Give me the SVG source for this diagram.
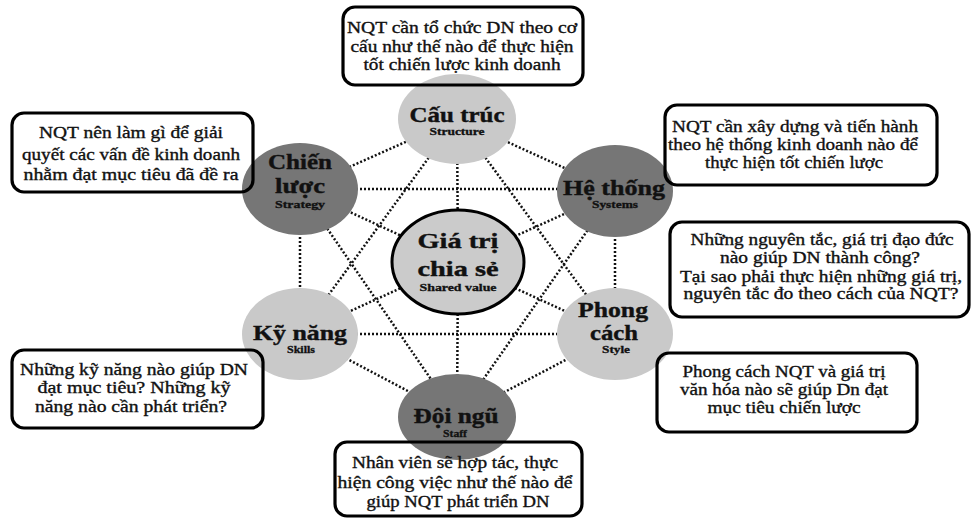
<svg xmlns="http://www.w3.org/2000/svg" width="971" height="520" viewBox="0 0 971 520">
<style>
.light{fill:#c9c9c9}
.dark{fill:#767676}
.core{fill:#cbcbcb;stroke:#000;stroke-width:3}
.box{fill:none;stroke:#000;stroke-width:3.2}
.bt{font-family:"Liberation Serif",serif;font-size:16px;fill:#111;stroke:#111;stroke-width:0.35;text-anchor:middle}
.tt{font-family:"Liberation Serif",serif;font-size:22px;font-weight:bold;fill:#111;stroke:#111;stroke-width:0.4;text-anchor:middle}
.st{font-family:"Liberation Serif",serif;font-size:10px;font-weight:bold;fill:#111;stroke:#111;stroke-width:0.3;text-anchor:middle}
#connectors line{stroke:#111;stroke-width:2.5;stroke-dasharray:2 2}
</style>
<rect width="971" height="520" fill="#fff"/>
<g id="connectors">
<line x1="457" y1="119" x2="300" y2="189"/>
<line x1="457" y1="119" x2="615" y2="191"/>
<line x1="457" y1="119" x2="300" y2="334"/>
<line x1="457" y1="119" x2="615" y2="334"/>
<line x1="457" y1="119" x2="458" y2="262"/>
<line x1="300" y1="189" x2="615" y2="189"/>
<line x1="300" y1="189" x2="458" y2="262"/>
<line x1="300" y1="189" x2="457" y2="417"/>
<line x1="300" y1="189" x2="300" y2="334"/>
<line x1="615" y1="191" x2="458" y2="262"/>
<line x1="615" y1="191" x2="457" y2="417"/>
<line x1="615" y1="191" x2="615" y2="334"/>
<line x1="300" y1="334" x2="458" y2="262"/>
<line x1="300" y1="334" x2="615" y2="334"/>
<line x1="300" y1="334" x2="457" y2="417"/>
<line x1="615" y1="334" x2="458" y2="262"/>
<line x1="615" y1="334" x2="457" y2="417"/>
<line x1="458" y1="262" x2="457" y2="417"/>
</g>
<g id="node-cautruc">
<ellipse class="light" cx="457" cy="119" rx="59" ry="45"/>
<text class="tt" x="457" y="122" textLength="95" lengthAdjust="spacingAndGlyphs">Cấu trúc</text>
<text class="st" x="457" y="135" textLength="55" lengthAdjust="spacingAndGlyphs">Structure</text>
</g>
<g id="node-chienluoc">
<ellipse class="dark" cx="300" cy="189" rx="58" ry="46"/>
<text class="tt" x="300" y="169" textLength="64" lengthAdjust="spacingAndGlyphs">Chiến</text>
<text class="tt" x="300" y="193" textLength="50" lengthAdjust="spacingAndGlyphs">lược</text>
<text class="st" x="300" y="208" textLength="50" lengthAdjust="spacingAndGlyphs">Strategy</text>
</g>
<g id="node-hethong">
<ellipse class="dark" cx="615" cy="191" rx="58" ry="46"/>
<text class="tt" x="614" y="195" textLength="102" lengthAdjust="spacingAndGlyphs">Hệ thống</text>
<text class="st" x="615" y="208" textLength="46" lengthAdjust="spacingAndGlyphs">Systems</text>
</g>
<g id="node-giatri">
<ellipse class="core" cx="458" cy="262" rx="66" ry="52"/>
<text class="tt" x="458" y="248" textLength="81" lengthAdjust="spacingAndGlyphs">Giá trị</text>
<text class="tt" x="458" y="276" textLength="81" lengthAdjust="spacingAndGlyphs">chia sẻ</text>
<text class="st" x="458" y="291" textLength="77" lengthAdjust="spacingAndGlyphs">Shared value</text>
</g>
<g id="node-kynang">
<ellipse class="light" cx="300" cy="334" rx="58" ry="46"/>
<text class="tt" x="300" y="340" textLength="94" lengthAdjust="spacingAndGlyphs">Kỹ năng</text>
<text class="st" x="301" y="353" textLength="28" lengthAdjust="spacingAndGlyphs">Skills</text>
</g>
<g id="node-phongcach">
<ellipse class="light" cx="615" cy="334" rx="58" ry="46"/>
<text class="tt" x="613" y="317" textLength="70" lengthAdjust="spacingAndGlyphs">Phong</text>
<text class="tt" x="614" y="340" textLength="48" lengthAdjust="spacingAndGlyphs">cách</text>
<text class="st" x="616" y="353" textLength="28" lengthAdjust="spacingAndGlyphs">Style</text>
</g>
<g id="node-doingu">
<ellipse class="dark" cx="457" cy="417" rx="59" ry="43"/>
<text class="tt" x="456" y="423" textLength="85" lengthAdjust="spacingAndGlyphs">Đội ngũ</text>
<text class="st" x="455" y="437" textLength="24" lengthAdjust="spacingAndGlyphs">Staff</text>
</g>
<g id="box-cautruc">
<rect class="box" x="343" y="7" width="240" height="78" rx="12"/>
<text class="bt" x="462" y="33" textLength="230" lengthAdjust="spacingAndGlyphs">NQT cần tổ chức DN theo cơ</text>
<text class="bt" x="462" y="52" textLength="223" lengthAdjust="spacingAndGlyphs">cấu như thế nào để thực hiện</text>
<text class="bt" x="462" y="70" textLength="197" lengthAdjust="spacingAndGlyphs">tốt chiến lược kinh  doanh</text>
</g>
<g id="box-chienluoc">
<rect class="box" x="12" y="113" width="241" height="79" rx="12"/>
<text class="bt" x="131" y="138" textLength="184" lengthAdjust="spacingAndGlyphs">NQT nên làm gì để giải</text>
<text class="bt" x="131" y="160" textLength="218" lengthAdjust="spacingAndGlyphs">quyết các vấn đề kinh doanh</text>
<text class="bt" x="131" y="180" textLength="215" lengthAdjust="spacingAndGlyphs">nhằm đạt mục tiêu đã đề ra</text>
</g>
<g id="box-hethong">
<rect class="box" x="665" y="105" width="272" height="80" rx="12"/>
<text class="bt" x="795" y="132" textLength="246" lengthAdjust="spacingAndGlyphs">NQT cần xây dựng và tiến hành</text>
<text class="bt" x="793" y="150" textLength="250" lengthAdjust="spacingAndGlyphs">theo hệ thống kinh  doanh nào để</text>
<text class="bt" x="794" y="168" textLength="178" lengthAdjust="spacingAndGlyphs">thực hiện tốt chiến lược</text>
</g>
<g id="box-giatri">
<rect class="box" x="670" y="222" width="299" height="95" rx="12"/>
<text class="bt" x="822" y="245" textLength="263" lengthAdjust="spacingAndGlyphs">Những nguyên tắc, giá trị đạo đức</text>
<text class="bt" x="820" y="263" textLength="200" lengthAdjust="spacingAndGlyphs">nào giúp DN thành công?</text>
<text class="bt" x="821" y="282" textLength="282" lengthAdjust="spacingAndGlyphs">Tại sao phải thực hiện những giá trị,</text>
<text class="bt" x="821" y="299" textLength="275" lengthAdjust="spacingAndGlyphs">nguyên tắc đo theo cách  của NQT?</text>
</g>
<g id="box-phongcach">
<rect class="box" x="657" y="353" width="260" height="79" rx="12"/>
<text class="bt" x="784" y="377" textLength="203" lengthAdjust="spacingAndGlyphs">Phong cách NQT và giá trị</text>
<text class="bt" x="784" y="395" textLength="208" lengthAdjust="spacingAndGlyphs">văn hóa nào sẽ giúp Dn đạt</text>
<text class="bt" x="784" y="413" textLength="153" lengthAdjust="spacingAndGlyphs">mục tiêu chiến lược</text>
</g>
<g id="box-kynang">
<rect class="box" x="12" y="350" width="251" height="78" rx="12"/>
<text class="bt" x="134" y="375" textLength="228" lengthAdjust="spacingAndGlyphs">Những kỹ năng nào giúp DN</text>
<text class="bt" x="134" y="393" textLength="193" lengthAdjust="spacingAndGlyphs">đạt mục tiêu? Những kỹ</text>
<text class="bt" x="131" y="412" textLength="192" lengthAdjust="spacingAndGlyphs">năng nào cần phát triển?</text>
</g>
<g id="box-doingu">
<rect class="box" x="335" y="442" width="247" height="74" rx="12"/>
<text class="bt" x="455" y="468" textLength="206" lengthAdjust="spacingAndGlyphs">Nhân viên sẽ hợp tác, thực</text>
<text class="bt" x="455" y="488" textLength="235" lengthAdjust="spacingAndGlyphs">hiện công việc như thế nào để</text>
<text class="bt" x="458" y="507" textLength="183" lengthAdjust="spacingAndGlyphs">giúp NQT phát triển DN</text>
</g>
</svg>
